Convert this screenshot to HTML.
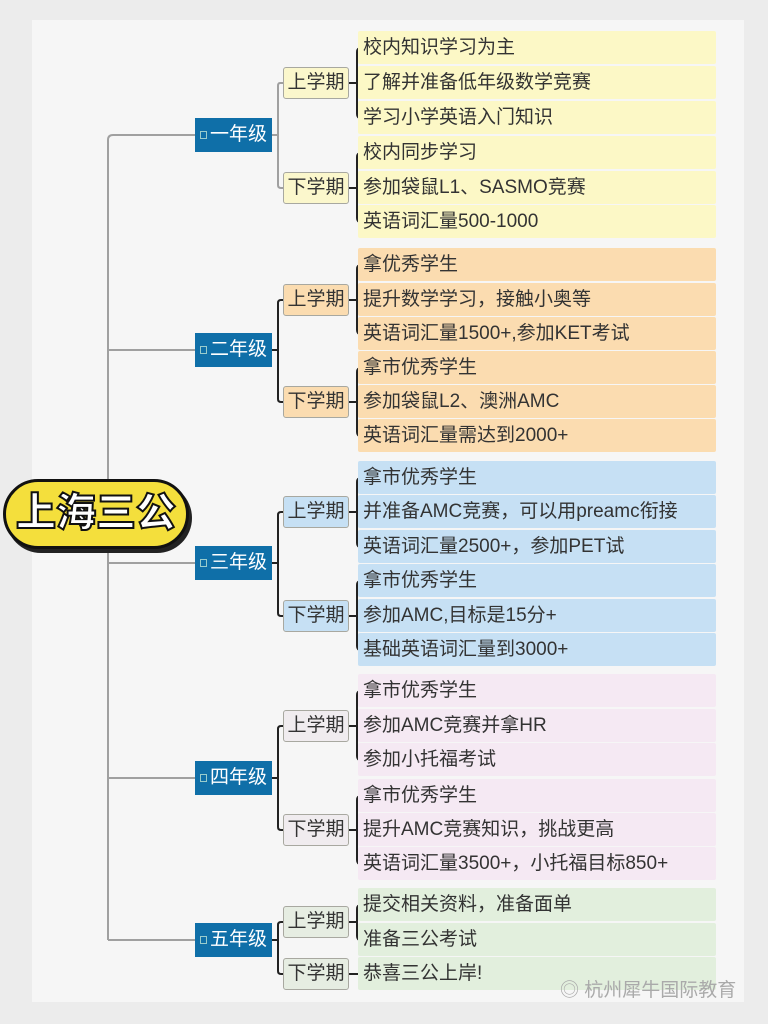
<!DOCTYPE html>
<html><head><meta charset="utf-8"><style>
*{margin:0;padding:0;box-sizing:border-box}
body{width:768px;height:1024px;background:#ececec;position:relative;overflow:hidden;font-family:"Liberation Sans","Noto Sans CJK SC",sans-serif}
.panel{position:absolute;left:32px;top:20px;width:712px;height:982px;background:#f6f6f6}
.leaf{position:absolute;left:358px;width:358px;height:33px;line-height:33px;padding-left:5px;font-size:19px;color:#333;border-radius:2px;white-space:nowrap}
.y{background:#fcf8c6}.o{background:#fbdcb0}.b{background:#c6e0f4}.p{background:#f5e9f3}.g{background:#e2efdd}
.sem{position:absolute;left:283px;width:66px;height:32px;line-height:30px;text-align:center;font-size:19px;color:#333;border:1.5px solid #a8a8a0;border-radius:3px;white-space:nowrap}
.yr{position:absolute;left:195px;width:77px;height:34px;line-height:34px;text-align:center;font-size:19px;color:#fff;background:#0f6fa8;white-space:nowrap}
.yr:before{content:"";display:inline-block;width:5px;height:6px;border:1px solid #9cc;margin-right:3px;vertical-align:middle}
.main{position:absolute;left:3px;top:479px;width:186px;height:70px;border:3px solid #111;border-radius:35px;background:#f4df3c;box-shadow:3px 4px 0 #222;text-align:center;line-height:62px;font-size:40px;font-weight:900;color:#fff;white-space:nowrap;-webkit-text-stroke:2px #111}
.wm{position:absolute;left:560px;top:975px;font-size:19px;color:#aaa;white-space:nowrap}
</style></head><body>
<div class="panel"></div>
<svg width="768" height="1024" style="position:absolute;left:0;top:0" fill="none">
<g stroke="#a0a0a0" stroke-width="2">
<path d="M108 940 V140 Q108 135 113 135 H195"/>
<path d="M108 350 H195 M108 563 H195 M108 778 H195 M108 940 H195"/>
<path d="M272 135 H278 M283 83 H280 Q278 83 278 86 V185 Q278 188 281 188 H283"/>
</g>
<g stroke="#222" stroke-width="2">
<path d="M272 350 H278 M283 300 H281 Q278 300 278 303 V399 Q278 402 281 402 H283"/>
<path d="M272 563 H278 M283 512 H281 Q278 512 278 515 V613 Q278 616 281 616 H283"/>
<path d="M272 778 H278 M283 726 H281 Q278 726 278 729 V827 Q278 830 281 830 H283"/>
<path d="M272 940 H278 M283 922 H281 Q278 922 278 925 V971 Q278 974 281 974 H283"/>
<path d="M349 83 H357 M361 48 Q357 48 357 52 V114 Q357 118 361 118"/>
<path d="M349 188 H357 M361 153 Q357 153 357 157 V218 Q357 222 361 222"/>
<path d="M349 300 H357 M361 265 Q357 265 357 269 V330 Q357 334 361 334"/>
<path d="M349 402 H357 M361 368 Q357 368 357 372 V432 Q357 436 361 436"/>
<path d="M349 512 H357 M361 478 Q357 478 357 482 V543 Q357 547 361 547"/>
<path d="M349 616 H357 M361 581 Q357 581 357 585 V646 Q357 650 361 650"/>
<path d="M349 726 H357 M361 691 Q357 691 357 695 V756 Q357 760 361 760"/>
<path d="M349 830 H357 M361 796 Q357 796 357 800 V860 Q357 864 361 864"/>
<path d="M349 922 H357 M361 905 Q357 905 357 909 V936 Q357 940 361 940"/>
<path d="M349 974 H358"/>
</g></svg>

<div class="leaf y" style="top:31px">校内知识学习为主</div>
<div class="leaf y" style="top:66px">了解并准备低年级数学竞赛</div>
<div class="leaf y" style="top:101px">学习小学英语入门知识</div>
<div class="leaf y" style="top:136px">校内同步学习</div>
<div class="leaf y" style="top:171px">参加袋鼠L1、SASMO竞赛</div>
<div class="leaf y" style="top:205px">英语词汇量500-1000</div>

<div class="leaf o" style="top:248px">拿优秀学生</div>
<div class="leaf o" style="top:283px">提升数学学习，接触小奥等</div>
<div class="leaf o" style="top:317px">英语词汇量1500+,参加KET考试</div>
<div class="leaf o" style="top:351px">拿市优秀学生</div>
<div class="leaf o" style="top:385px">参加袋鼠L2、澳洲AMC</div>
<div class="leaf o" style="top:419px">英语词汇量需达到2000+</div>

<div class="leaf b" style="top:461px">拿市优秀学生</div>
<div class="leaf b" style="top:495px">并准备AMC竞赛，可以用preamc衔接</div>
<div class="leaf b" style="top:530px">英语词汇量2500+，参加PET试</div>
<div class="leaf b" style="top:564px">拿市优秀学生</div>
<div class="leaf b" style="top:599px">参加AMC,目标是15分+</div>
<div class="leaf b" style="top:633px">基础英语词汇量到3000+</div>

<div class="leaf p" style="top:674px">拿市优秀学生</div>
<div class="leaf p" style="top:709px">参加AMC竞赛并拿HR</div>
<div class="leaf p" style="top:743px">参加小托福考试</div>
<div class="leaf p" style="top:779px">拿市优秀学生</div>
<div class="leaf p" style="top:813px">提升AMC竞赛知识，挑战更高</div>
<div class="leaf p" style="top:847px">英语词汇量3500+，小托福目标850+</div>

<div class="leaf g" style="top:888px">提交相关资料，准备面单</div>
<div class="leaf g" style="top:923px">准备三公考试</div>
<div class="leaf g" style="top:957px">恭喜三公上岸!</div>

<div class="sem" style="top:67px;background:#fbf7cc">上学期</div>
<div class="sem" style="top:172px;background:#fbf7cc">下学期</div>
<div class="sem" style="top:284px;background:#fbdcb0">上学期</div>
<div class="sem" style="top:386px;background:#fbdcb0">下学期</div>
<div class="sem" style="top:496px;background:#c6e0f4">上学期</div>
<div class="sem" style="top:600px;background:#c6e0f4">下学期</div>
<div class="sem" style="top:710px;background:#f0ecef">上学期</div>
<div class="sem" style="top:814px;background:#f0ecef">下学期</div>
<div class="sem" style="top:906px;background:#e6ede2">上学期</div>
<div class="sem" style="top:958px;background:#e6ede2">下学期</div>

<div class="yr" style="top:118px">一年级</div>
<div class="yr" style="top:333px">二年级</div>
<div class="yr" style="top:546px">三年级</div>
<div class="yr" style="top:761px">四年级</div>
<div class="yr" style="top:923px">五年级</div>

<div class="main">上海三公</div>
<div class="wm">◎ 杭州犀牛国际教育</div>
</body></html>
